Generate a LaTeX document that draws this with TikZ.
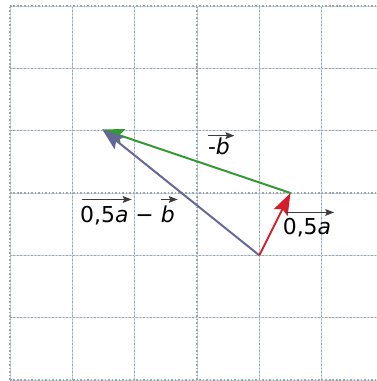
\documentclass[tikz,border=0pt]{standalone}
\usepackage{fontspec}
\setmainfont{DejaVu Sans}
\usetikzlibrary{arrows.meta}
\definecolor{vred}{RGB}{210,30,42}
\definecolor{vgreen}{RGB}{51,153,51}
\definecolor{vblue}{RGB}{102,102,153}
\definecolor{gridblue}{RGB}{185,215,228}
\definecolor{gridgray}{RGB}{165,165,165}
\definecolor{ovgray}{RGB}{60,60,60}
\tikzset{
  vec/.style={line width=0.9pt, -{Stealth[length=10pt,width=7pt,inset=1.8pt]}},
  ovarrow/.style={ovgray, line width=0.7pt, -{Stealth[length=4pt,width=3pt,inset=0.6pt]}},
  lab/.style={anchor=base west, inner sep=0pt, font=\fontsize{10}{12}\selectfont},
}
\begin{document}
\begin{tikzpicture}[x=1cm,y=1cm]
\useasboundingbox (-0.16,-0.016) rectangle (5.88,6.096);
\fill[white] (-0.16,-0.016) rectangle (5.88,6.096);
\draw[gridblue, line width=0.35pt] (0,0) grid (6,6);
\draw[gridgray, line width=0.5pt, dash pattern=on 0.7pt off 0.9pt] (0,0) grid (6,6);
\coordinate (O) at (4,2);
\coordinate (A) at (4.5,3);
\coordinate (B) at (1.48,4.02);
\draw[vec, vgreen] (A) -- (B);
\draw[vec, vblue] (O) -- (B);
\draw[vec, vred] (O) -- (A);
% labels
\node[lab] (lb) at (3.17,3.616) {-\textit{b}};
\draw[ovarrow] (3.184,3.92) -- (3.60,3.92);
\node[lab] (la) at (4.37,2.336) {0,5\textit{a}};
\draw[ovarrow] (4.43,2.688) -- (5.20,2.688);
\node[lab] (lab) at (1.12,2.528) {0,5\textit{a} − \textit{b}};
\draw[ovarrow] (1.152,2.896) -- (1.952,2.896);
\draw[ovarrow] (2.43,2.896) -- (2.69,2.896);
\end{tikzpicture}
\end{document}
